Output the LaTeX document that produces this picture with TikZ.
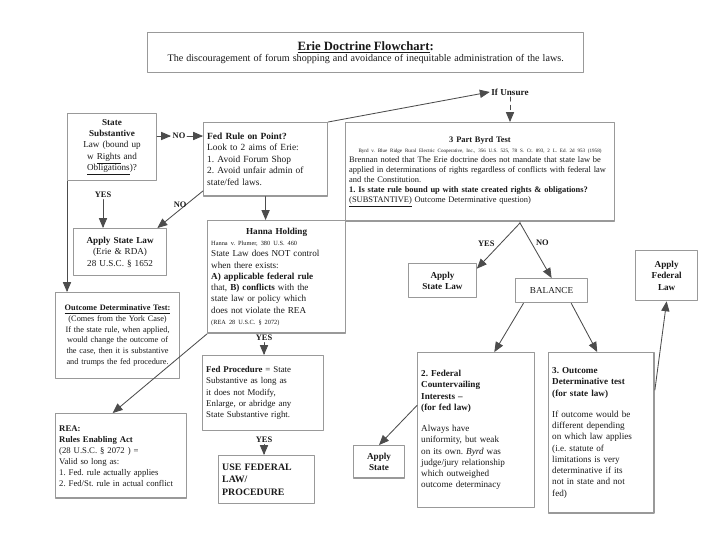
\documentclass[tikz,border=0pt]{standalone}
\usepackage{fontspec}
\setmainfont{Liberation Serif}
\usetikzlibrary{arrows}
\definecolor{zzzzzz}{rgb}{0.6,0.6,0.6}
\definecolor{ududud}{rgb}{0.3,0.3,0.3}
\definecolor{sqsqsq}{rgb}{0.1,0.1,0.1}

\begin{document}
\begin{tikzpicture}[line cap=round,line join=round,>=triangle 45,x=0.025cm,y=-0.025cm,
  box/.style={draw=zzzzzz,line width=1pt,fill=white,anchor=north west,inner sep=2.5pt,align=left,text=sqsqsq,
    font=\fontsize{6.5}{8}\selectfont,execute at begin node={\hyphenpenalty=10000\frenchspacing}},
  lbl/.style={font=\fontsize{6}{7}\selectfont\bfseries,text=sqsqsq,inner sep=1pt},
  conn/.style={->,color=ududud,line width=0.6pt}]
\clip(0,0) rectangle (720,557);
% title
\node[box,text width=305pt,minimum height=28.4pt,align=center] (title) at (147,32)
  {{\fontsize{9}{10.5}\selectfont\textbf{\underline{Erie Doctrine Flowchart}:}}\\
   {\fontsize{7.2}{8}\selectfont The discouragement of forum shopping and avoidance of inequitable administration of the laws.}};
% left column
\node[box,text width=58pt,minimum height=47.6pt,align=center] (state) at (67,113)
  {\textbf{State}\\ \textbf{Substantive}\\ Law (bound up\\ w \underline{Rights} and\\ \underline{Obligations})?};
\node[box,text width=83pt,minimum height=52pt,font=\fontsize{6.7}{8.2}\selectfont] (fedrule) at (203,122)
  {\textbf{Fed Rule on Point?}\\ Look to 2 aims of Erie:\\ 1. Avoid Forum Shop\\ 2. Avoid unfair admin of\\ state/fed laws.};
\node[box,text width=61pt,minimum height=33.4pt,align=center] (applystate) at (73,228)
  {\textbf{Apply State Law}\\ (Erie \& RDA)\\ 28 U.S.C. § 1652};
\node[box,text width=83pt,minimum height=61pt,align=center,font=\fontsize{5.9}{7.6}\selectfont] (outcome) at (55,292)
  {\textbf{\underline{Outcome Determinative Test:}}\\ (Comes from the York Case)\\ If the state rule, when applied, would change the outcome of the case, then it is substantive and trumps the fed procedure.};
\node[box,text width=88pt,minimum height=60pt,font=\fontsize{6.2}{7.8}\selectfont] (rea) at (55,413)
  {\textbf{REA:}\\ \textbf{Rules Enabling Act}\\ (28 U.S.C. § 2072 ) =\\ Valid so long as:\\ 1. Fed. rule actually applies\\ 2. Fed/St. rule in actual conflict};
% middle column
\node[box,text width=93pt,minimum height=80pt] (hanna) at (207,220)
  {{\centering\textbf{Hanna Holding}\par}
   {\fontsize{4.5}{6}\selectfont Hanna v. Plumer, 380 U.S. 460}\\
   State Law does NOT control\\ when there exists:\\
   \textbf{A) applicable federal rule}\\ that, \textbf{B) conflicts} with the\\ state law or policy which\\ does not violate the REA\\
   {\fontsize{4.5}{6}\selectfont (REA 28 U.S.C. § 2072)}};
\node[box,text width=81pt,minimum height=53pt,font=\fontsize{6.3}{8}\selectfont] (fedproc) at (202,355)
  {\textbf{Fed Procedure} = State\\ Substantive as long as\\ it does not Modify,\\ Enlarge, or abridge any\\ State Substantive right.};
\node[box,text width=63pt,minimum height=34pt,font=\fontsize{7}{9}\selectfont\bfseries] (usefed) at (218,455)
  {USE FEDERAL\\ LAW/\\ PROCEDURE};
% right side
\node[lbl,font=\fontsize{6.5}{7}\selectfont\bfseries] (ifunsure) at (510,92) {If Unsure};
\node[box,text width=186pt,minimum height=70pt,font=\fontsize{6}{7.2}\selectfont] (byrd) at (345,122)
  {{\centering\textbf{3 Part Byrd Test}\\
   {\fontsize{3.6}{5}\selectfont Byrd v. Blue Ridge Rural Electric Cooperative, Inc., 356 U.S. 525, 78 S. Ct. 893, 2 L. Ed. 2d 953 (1958)}\par}
   Brennan noted that The Erie doctrine does not mandate that state law be applied in determinations of rights regardless of conflicts with federal law and the Constitution.\\
   \textbf{1. Is state rule bound up with state created rights \& obligations?}\\
   \underline{(SUBSTANTIVE)} Outcome Determinative question)};
\coordinate (split) at (520,223);
\node[box,text width=43pt,minimum height=24pt,align=center] (applystate2) at (408,263)
  {\textbf{Apply}\\ \textbf{State Law}};
\node[box,text width=46pt,minimum height=17pt,align=center] (balance) at (515,278) {BALANCE};
\node[box,text width=39pt,minimum height=35.5pt,align=center] (applyfed) at (635,250)
  {\textbf{Apply}\\ \textbf{Federal}\\ \textbf{Law}};
\node[box,text width=78pt,minimum height=110pt] (countervail) at (417,352)
  {\textbf{2. Federal}\\ \textbf{Countervailing}\\ \textbf{Interests –}\\ \textbf{(for fed law)}\\[7pt]
   Always have\\ uniformity, but weak\\ on its own. \textit{Byrd} was\\ judge/jury relationship\\ which outweighed\\ outcome determinacy};
\node[box,text width=70pt,minimum height=114pt] (outdet) at (548,352)
  {\textbf{3. Outcome}\\ \textbf{Determinative test}\\ \textbf{(for state law)}\\[7pt]
   If outcome would be\\ different depending\\ on which law applies\\ (i.e. statute of\\ limitations is very\\ determinative if its\\ not in state and not\\ fed)};
\node[box,text width=31pt,minimum height=23pt,align=center] (applystate3) at (353,445)
  {\textbf{Apply}\\ \textbf{State}};
% labels
\node[lbl] (no1) at (179,136) {NO};
\node[lbl] (yes1) at (103,195) {YES};
\node[lbl] (yes2) at (264,338) {YES};
\node[lbl] (yes3) at (264,440) {YES};
% connectors
\draw[conn] (state.east |- no1) -- (no1);
\draw[conn] (no1) -- (fedrule.west |- no1);
\draw[conn] (yes1.south) -- (yes1.south |- applystate.north);
\draw[conn] ([yshift=4pt]fedrule.south west) -- ([xshift=-7pt]applystate.north east) node[lbl,midway,above] {NO};
\draw[conn] (state.south west) -- (state.south west |- outcome.north);
\draw[conn] (fedrule.south) -- (fedrule.south |- hanna.north);
\draw[conn] (fedrule.north east) -- (ifunsure.west);
\draw[conn,dashed] (ifunsure.south) -- (ifunsure.south |- byrd.north);
\draw[conn] (byrd.south -| split) -- (split) -- ([yshift=-4pt]applystate2.north east) node[lbl,pos=0.55,above left] {YES};
\draw[conn] (split) -- (balance.north) node[lbl,pos=0.45,above right] {NO};
\draw[conn] (yes2.south) -- (yes2.south |- fedproc.north);
\draw[conn] (hanna.south west) -- ([xshift=-6pt]rea.north);
\draw[conn] (yes3.south) -- (yes3.south |- usefed.north);
\draw[conn] ([xshift=6pt]balance.south west) -- ([xshift=13pt]countervail.north);
\draw[conn] ([xshift=-12pt]balance.south east) -- ([xshift=-3pt]outdet.north);
\draw[conn] ([yshift=-27pt]outdet.north east) -- (applyfed.south);
\draw[conn] ([yshift=-38pt]countervail.north west) -- (applystate3.north);
\end{tikzpicture}
\end{document}
